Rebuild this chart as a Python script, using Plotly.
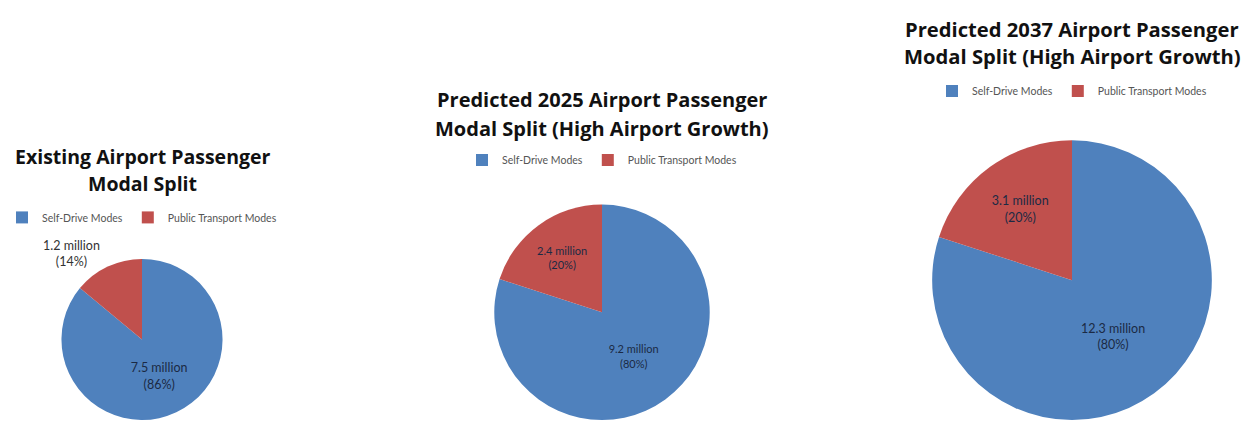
import plotly.graph_objects as go

# ---- data ----
categories = ["Self-Drive Modes", "Public Transport Modes"]
title_lines = [
    ["Existing Airport Passenger", "Modal Split"],
    ["Predicted 2025 Airport Passenger", "Modal Split (High Airport Growth)"],
    ["Predicted 2037 Airport Passenger", "Modal Split (High Airport Growth)"],
]
millions_existing = [7.5, 1.2]
millions_2025 = [9.2, 2.4]
millions_2037 = [12.3, 3.1]
share_existing = [86, 14]
share_2025 = [80, 20]
share_2037 = [80, 20]

colors = ["#4F81BD", "#C0504D"]
W, H = 1242, 425

# layout geometry (pixels, from top-left)
pies = [
    dict(m=millions_existing, s=share_existing, cx=142, top=262, r=82,
         title_y=[158, 186], legend_y=220, tpos=["inside", "outside"],
         legend="legend", fs=12.5, tsize=19.5),
    dict(m=millions_2025, s=share_2025, cx=602, top=207, r=109,
         title_y=[101, 130], legend_y=162, tpos=["inside", "inside"],
         legend="legend2", fs=11, tsize=20),
    dict(m=millions_2037, s=share_2037, cx=1072, top=142, r=141.5,
         title_y=[29, 57], legend_y=92, tpos=["inside", "inside"],
         legend="legend3", fs=12.5, tsize=20.2),
]

fig = go.Figure()
annotations = []
legends = {}
for i, p in enumerate(pies):
    cy_bottom = H - (p["top"] + p["r"])
    dom_x = [(p["cx"] - p["r"]) / W, (p["cx"] + p["r"]) / W]
    dom_y = [max(0, (cy_bottom - p["r"]) / H), (cy_bottom + p["r"]) / H]
    texts = [f"{m} million<br>({s}%)" for m, s in zip(p["m"], p["s"])]
    fig.add_trace(go.Pie(
        labels=categories, values=p["s"], text=texts,
        textinfo="text", textposition=p["tpos"],
        sort=False, direction="clockwise", rotation=0,
        marker=dict(colors=colors, line=dict(width=0)),
        domain=dict(x=dom_x, y=dom_y),
        insidetextfont=dict(family="Lato", size=p["fs"], color="#1b2a44"),
        outsidetextfont=dict(family="Lato", size=p["fs"], color="#333333"),
        insidetextorientation="horizontal",
        legend=p["legend"], legendgroup=f"pie{i}", showlegend=True,
        hoverinfo="label+percent",
    ))
    for line, ty in zip(title_lines[i], p["title_y"]):
        annotations.append(dict(
            text=f"<b>{line}</b>", x=p["cx"] / W, y=(H - ty) / H,
            xref="paper", yref="paper", xanchor="center", yanchor="middle",
            showarrow=False,
            font=dict(family="Open Sans", size=p["tsize"], color="#111111"),
        ))
    legends[p["legend"]] = dict(
        orientation="h", x=p["cx"] / W, y=(H - p["legend_y"]) / H,
        xanchor="center", yanchor="middle", itemwidth=30,
        font=dict(family="Lato", size=10.5, color="#555555"),
        bgcolor="rgba(0,0,0,0)", traceorder="normal",
    )

fig.update_layout(
    width=W, height=H, margin=dict(l=0, r=0, t=0, b=0),
    paper_bgcolor="white", plot_bgcolor="white",
    annotations=annotations, **legends,
)
fig.write_html(
    "out.html",
    config={"displayModeBar": False},
    post_script="document.body.style.margin='0px';document.body.style.overflow='hidden';",
)
